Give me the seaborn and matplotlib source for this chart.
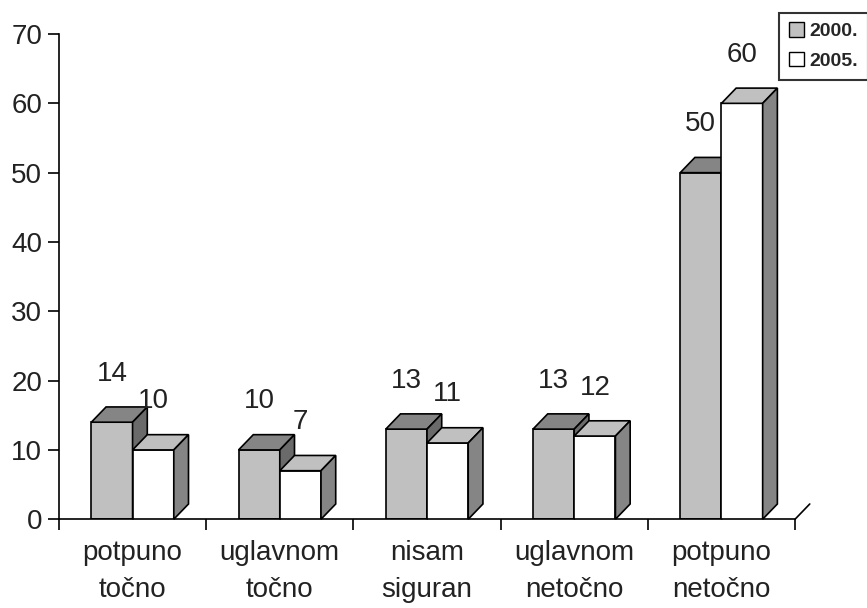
import numpy as np
import pandas as pd
import matplotlib
matplotlib.use("Agg")
import matplotlib.pyplot as plt
from matplotlib.patches import Polygon, Patch
import seaborn as sns

sns.set_theme(style="white")
plt.rcParams['font.family'] = ['Liberation Sans', 'DejaVu Sans']

# categories and values
kategorije = ["potpuno\ntočno", "uglavnom\ntočno", "nisam\nsiguran",
              "uglavnom\nnetočno", "potpuno\nnetočno"]
godine = ["2000.", "2005."]
vrijednosti_2000 = [14, 10, 13, 13, 50]
vrijednosti_2005 = [10, 7, 11, 12, 60]

df = pd.DataFrame({
    "kategorija": kategorije * 2,
    "godina": [godine[0]] * 5 + [godine[1]] * 5,
    "vrijednost": vrijednosti_2000 + vrijednosti_2005,
})

# front, top, side shades for each series
boje = {"2000.": ("#c0c0c0", "#858585", "#6a6a6a"),
        "2005.": ("#ffffff", "#c0c0c0", "#858585")}

fig = plt.figure(figsize=(8.67, 6.08), dpi=100)
ax = fig.add_axes([0.068, 0.146, 0.849, 0.798])

sns.barplot(data=df, x="kategorija", y="vrijednost", hue="godina",
            palette=[boje[g][0] for g in godine], edgecolor="black",
            linewidth=1.2, width=0.56, saturation=1, legend=False, ax=ax)

ax.set_xlim(-0.5, 4.5)
ax.set_ylim(0, 70)

# 3D depth offset in data units
dx = 0.10
dy = 2.2

bars = [p for p in ax.patches if p.get_height() > 0]
for i, p in enumerate(bars):
    g = 0 if i < len(kategorije) else 1
    front, top, side = boje[godine[g]]
    x0 = p.get_x()
    w = p.get_width()
    h = p.get_height()
    z = 2 + 2 * g
    p.set_zorder(z)
    top_poly = Polygon([(x0, h), (x0 + dx, h + dy), (x0 + w + dx, h + dy), (x0 + w, h)],
                       closed=True, facecolor=top, edgecolor="black", linewidth=1.2,
                       zorder=z + 0.5, clip_on=False)
    side_poly = Polygon([(x0 + w, 0), (x0 + w + dx, dy), (x0 + w + dx, h + dy), (x0 + w, h)],
                        closed=True, facecolor=side, edgecolor="black", linewidth=1.2,
                        zorder=z + 0.5, clip_on=False)
    ax.add_patch(top_poly)
    ax.add_patch(side_poly)
    ax.text(x0 + w / 2, h + 7, f"{h:.0f}", ha="center", va="center",
            fontsize=20, color="#222222", zorder=10)

# floor edge at the right end
ax.plot([4.5, 4.5 + dx], [0, dy], color="black", lw=1.2, clip_on=False)

for s in ["top", "right"]:
    ax.spines[s].set_visible(False)
for s in ["left", "bottom"]:
    ax.spines[s].set_color("black")
    ax.spines[s].set_linewidth(1.2)

ax.set_yticks(range(0, 71, 10))
ax.tick_params(axis="y", direction="out", length=8, width=1.2, color="black",
               labelsize=20, labelcolor="#222222", pad=4, left=True)
ax.set_xticks(range(len(kategorije)))
ax.set_xticklabels(kategorije, fontsize=20, color="#222222", linespacing=1.55)
ax.tick_params(axis="x", length=0, pad=15)
ax.set_xticks(np.arange(-0.5, 4.6, 1.0), minor=True)
ax.tick_params(axis="x", which="minor", direction="out", length=8, width=1.2,
               color="black", bottom=True)
ax.set_xlabel("")
ax.set_ylabel("")

handles = [Patch(facecolor=boje[g][0], edgecolor="black", linewidth=1.0, label=g)
           for g in godine]
leg = fig.legend(handles=handles, loc="upper right", bbox_to_anchor=(1.012, 0.995),
                 frameon=True, fancybox=False, edgecolor="black",
                 prop={"weight": "bold", "size": 14}, handlelength=0.75,
                 handleheight=0.75, handletextpad=0.3, borderpad=0.5,
                 labelspacing=0.6)
leg.get_frame().set_linewidth(1.5)

fig.savefig("out.png", dpi=100)
